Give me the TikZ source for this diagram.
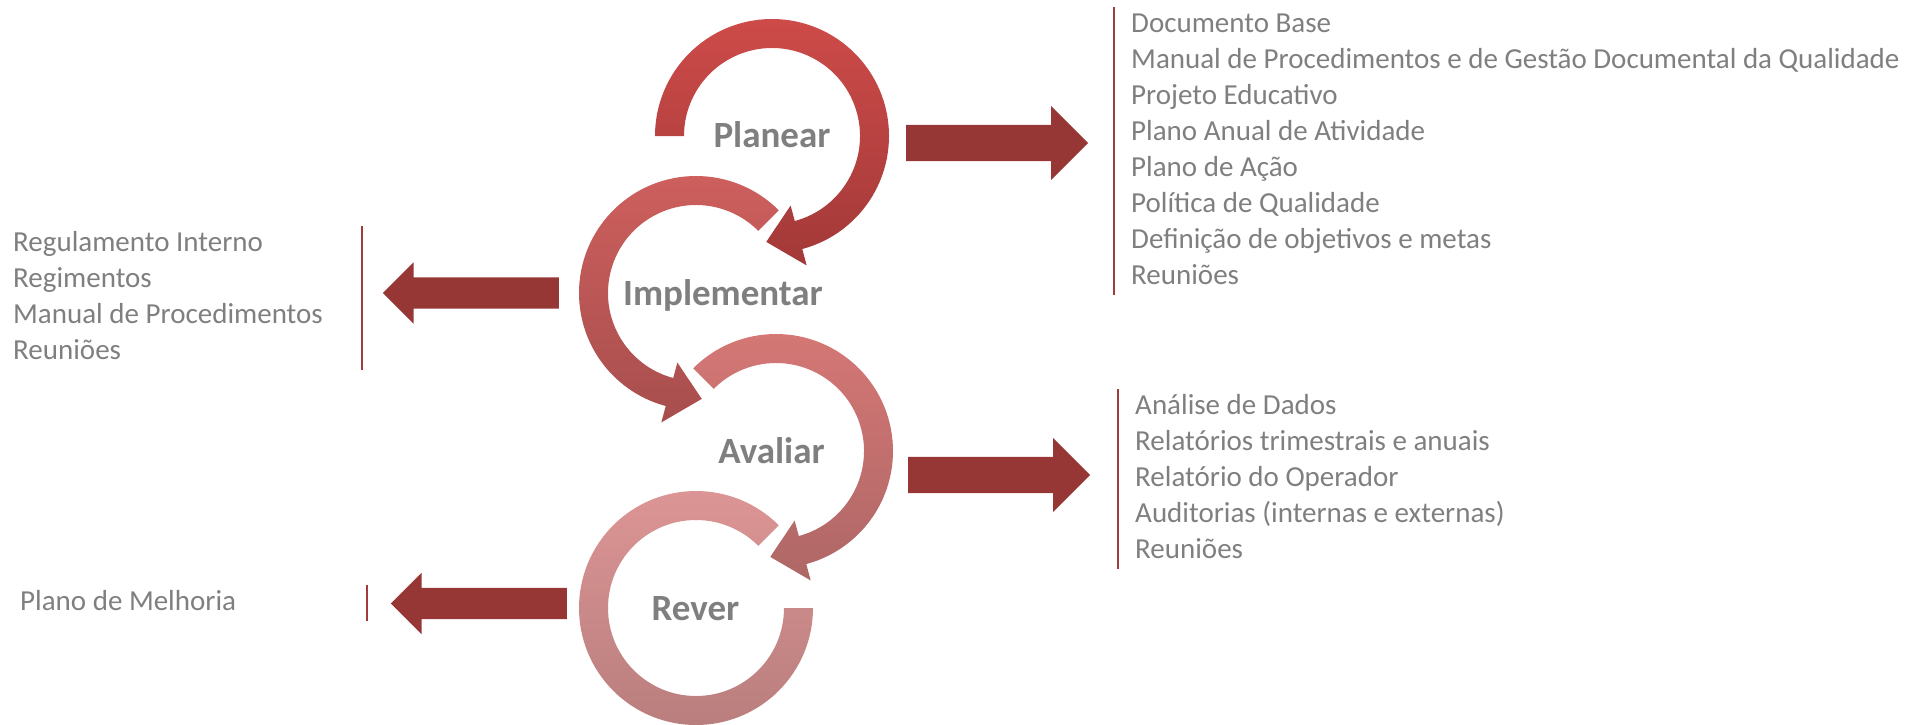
\documentclass[tikz,border=0pt]{standalone}
\usepackage{fontspec}
\setmainfont{Carlito}
\usetikzlibrary{shapes.arrows,calc}
\definecolor{arrowred}{HTML}{963735}
\definecolor{barred}{HTML}{A23C3A}
\definecolor{textgray}{HTML}{7F7F7F}
\definecolor{planTop}{HTML}{CD4B49}
\definecolor{planBot}{HTML}{A23938}
\definecolor{implTop}{HTML}{CF605E}
\definecolor{implBot}{HTML}{A74E4D}
\definecolor{avalTop}{HTML}{D67876}
\definecolor{avalBot}{HTML}{AE6766}
\definecolor{revTop}{HTML}{DE9696}
\definecolor{revBot}{HTML}{B77D7C}
\tikzstyle{blockarrow} = [single arrow, fill=arrowred, draw=none, inner xsep=0pt, single arrow tip angle=90, single arrow head indent=0pt, anchor=tail]
\tikzstyle{bigarrow} = [blockarrow, inner ysep=18pt, single arrow head extend=19pt, minimum width=74pt, minimum height=182pt]
\tikzstyle{smallarrow} = [blockarrow, inner ysep=15.5pt, single arrow head extend=15pt, minimum width=61pt, minimum height=176pt, shape border rotate=180]
\tikzstyle{steplabel} = [font=\fontsize{37}{44}\selectfont\bfseries, text=textgray, anchor=base, inner sep=0pt]
\tikzstyle{itemlist} = [font=\fontsize{29}{36}\selectfont, text=textgray, align=left, anchor=north west, inner sep=0pt]
\tikzstyle{sidebar} = [draw=barred, line width=1.5pt]

\begin{document}
\begin{tikzpicture}[x=1pt,y=1pt]
	\useasboundingbox (0,0) rectangle (1915,-724);
	\coordinate (planear) at (772,-136);
	\coordinate (implementar) at (696,-293);
	\coordinate (avaliar) at (776,-451);
	\coordinate (rever) at (696,-608);

	\shade[top color=planTop, bottom color=planBot]
		($(planear)+(180:117pt)$) arc[start angle=180, end angle=-75, radius=117pt]
		-- ($(planear)+(-75:134pt)$) -- ($(planear)+(-75:102.5pt)+(-168:33pt)$) -- ($(planear)+(-75:72pt)$)
		-- ($(planear)+(-75:88pt)$) arc[start angle=-75, end angle=180, radius=88pt] -- cycle;
	\shade[top color=implTop, bottom color=implBot]
		($(implementar)+(45:117pt)$) arc[start angle=45, end angle=255, radius=117pt]
		-- ($(implementar)+(255:134pt)$) -- ($(implementar)+(255:102.5pt)+(348:33pt)$) -- ($(implementar)+(255:72pt)$)
		-- ($(implementar)+(255:88pt)$) arc[start angle=255, end angle=45, radius=88pt] -- cycle;
	\shade[top color=avalTop, bottom color=avalBot]
		($(avaliar)+(135:117pt)$) arc[start angle=135, end angle=-75, radius=117pt]
		-- ($(avaliar)+(-75:134pt)$) -- ($(avaliar)+(-75:102.5pt)+(-168:33pt)$) -- ($(avaliar)+(-75:72pt)$)
		-- ($(avaliar)+(-75:88pt)$) arc[start angle=-75, end angle=135, radius=88pt] -- cycle;
	\shade[top color=revTop, bottom color=revBot]
		($(rever)+(45:117pt)$) arc[start angle=45, end angle=360, radius=117pt]
		-- ($(rever)+(360:88pt)$) arc[start angle=360, end angle=45, radius=88pt] -- cycle;

	\node[steplabel] (planlabel) at (772,-147) {Planear};
	\node[steplabel] (impllabel) at (723,-305) {Implementar};
	\node[steplabel] (avallabel) at (771.5,-463) {Avaliar};
	\node[steplabel] (revlabel) at (695.5,-620) {Rever};

	\node[bigarrow] (planarrow) at (906,-143) {};
	\node[bigarrow] (avalarrow) at (908,-475) {};
	\node[smallarrow] (implarrow) at (559,-293) {};
	\node[smallarrow] (revarrow) at (567,-603.5) {};

	\node[itemlist] (planlist) at (1131,-7) {Documento Base\strut\\Manual de Procedimentos e de Gestão Documental da Qualidade\strut\\Projeto Educativo\strut\\Plano Anual de Atividade\strut\\Plano de Ação\strut\\Política de Qualidade\strut\\Definição de objetivos e metas\strut\\Reuniões\strut};
	\node[itemlist] (avallist) at (1135,-389) {Análise de Dados\strut\\Relatórios trimestrais e anuais\strut\\Relatório do Operador\strut\\Auditorias (internas e externas)\strut\\Reuniões\strut};
	\node[itemlist] (impllist) at (13,-226) {Regulamento Interno\strut\\Regimentos\strut\\Manual de Procedimentos\strut\\Reuniões\strut};
	\node[itemlist] (revlist) at (20,-585) {Plano de Melhoria\strut};

	\draw[sidebar] ([xshift=-17pt]planlist.north west) -- ([xshift=-17pt]planlist.south west);
	\draw[sidebar] ([xshift=-17pt]avallist.north west) -- ([xshift=-17pt]avallist.south west);
	\draw[sidebar] ([xshift=349pt]impllist.north west) -- ([xshift=349pt]impllist.south west);
	\draw[sidebar] ([xshift=347pt]revlist.north west) -- ([xshift=347pt]revlist.south west);
\end{tikzpicture}
\end{document}
